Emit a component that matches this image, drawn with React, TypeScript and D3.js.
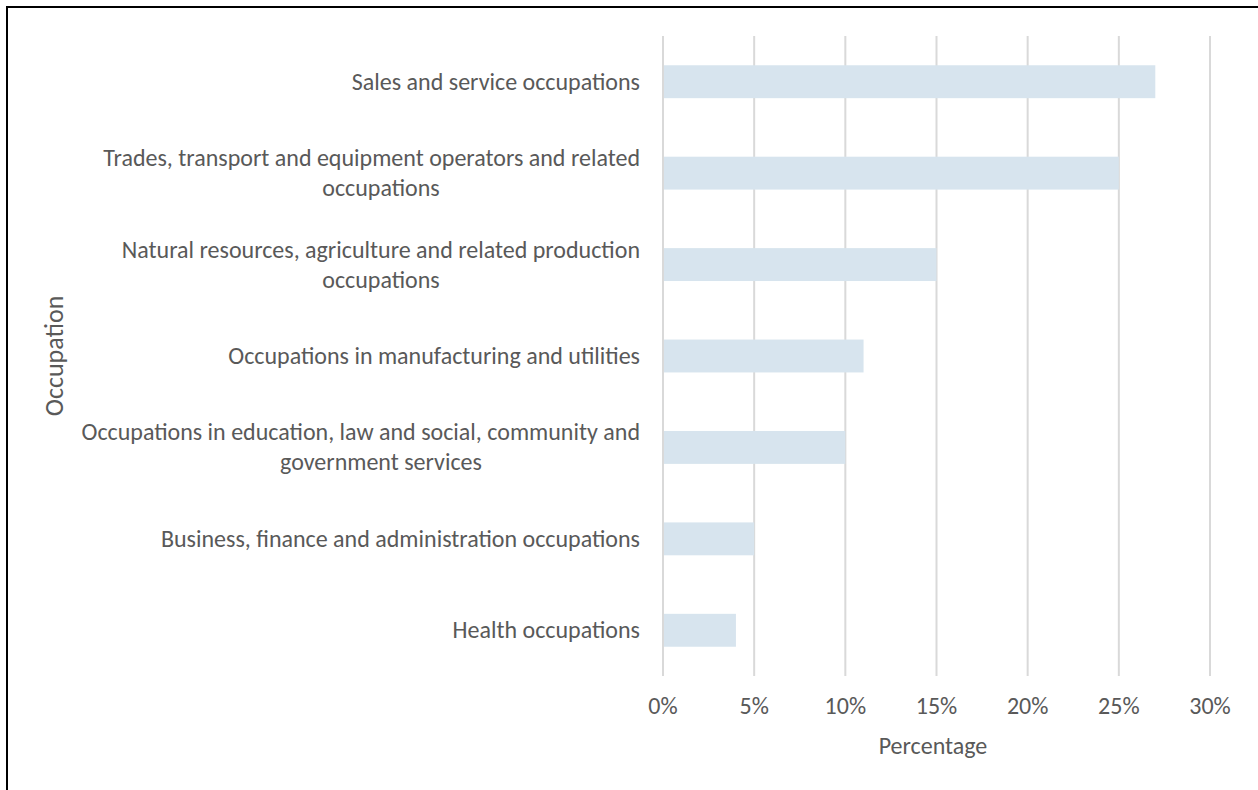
import React from "react";
import * as d3 from "d3";

const categories: string[][] = [
  ["Sales and service occupations"],
  ["Trades, transport and equipment operators and related", "occupations"],
  ["Natural resources, agriculture and related production", "occupations"],
  ["Occupations in manufacturing and utilities"],
  ["Occupations in education, law and social, community and", "government services"],
  ["Business, finance and administration occupations"],
  ["Health occupations"],
];
const values: number[] = [27, 25, 15, 11, 10, 5, 4];
const ticks: number[] = [0, 5, 10, 15, 20, 25, 30];

const W = 1258;
const H = 790;
const FONT = "Calibri, Carlito, Lato, sans-serif";
const TXT = "#595959";

export default function App() {
  const x = d3.scaleLinear().domain([0, 30]).range([663, 1210]);
  const y = d3
    .scaleBand<number>()
    .domain(d3.range(categories.length))
    .range([36, 676])
    .paddingInner(0)
    .paddingOuter(0);
  const barH = y.bandwidth() * 0.36;
  const labelRight = 640;
  const labelBoxW = 518;
  const fs = 24;
  const lineH = 30;

  const measure = (s: string) => {
    if (typeof document === "undefined") return s.length * 10;
    const c = document.createElement("canvas").getContext("2d")!;
    c.font = `${fs}px ${FONT}`;
    return c.measureText(s).width;
  };

  return (
    <svg
      width={W}
      height={H}
      style={{ position: "absolute", left: 0, top: 0, background: "#fff" }}
      fontFamily={FONT}
    >
      <rect x={7} y={7} width={W + 50} height={H + 50} fill="#fff" stroke="#000" strokeWidth={2} />
      {ticks.map((t) => (
        <line key={t} x1={x(t)} x2={x(t)} y1={36} y2={676} stroke="#d9d9d9" strokeWidth={2} />
      ))}
      {values.map((v, i) => (
        <rect
          key={i}
          x={x(0) + 1}
          y={(y(i) as number) + (y.bandwidth() - barH) / 2}
          width={x(v) - x(0) - 1}
          height={barH}
          fill="#d7e4ee"
        />
      ))}
      {ticks.map((t) => (
        <text key={"t" + t} x={x(t)} y={714} textAnchor="middle" fontSize={fs} fill={TXT}>
          {t + "%"}
        </text>
      ))}
      {categories.map((lines, i) => {
        const cy = (y(i) as number) + y.bandwidth() / 2;
        if (lines.length === 1) {
          return (
            <text key={"c" + i} x={labelRight} y={cy + 8} textAnchor="end" fontSize={fs} fill={TXT}>
              {lines[0]}
            </text>
          );
        }
        const boxCenter = labelRight - labelBoxW / 2;
        return (
          <g key={"c" + i}>
            {lines.map((l, j) => {
              const w = measure(l);
              const cx = Math.min(boxCenter, labelRight - w / 2);
              return (
                <text
                  key={j}
                  x={cx}
                  y={cy + 8 + (j - (lines.length - 1) / 2) * lineH}
                  textAnchor="middle"
                  fontSize={fs}
                  fill={TXT}
                >
                  {l}
                </text>
              );
            })}
          </g>
        );
      })}
      <text x={933} y={754} textAnchor="middle" fontSize={fs} fill={TXT}>
        Percentage
      </text>
      <text transform={`translate(63,356) rotate(-90)`} textAnchor="middle" fontSize={26} fill={TXT}>
        Occupation
      </text>
    </svg>
  );
}
